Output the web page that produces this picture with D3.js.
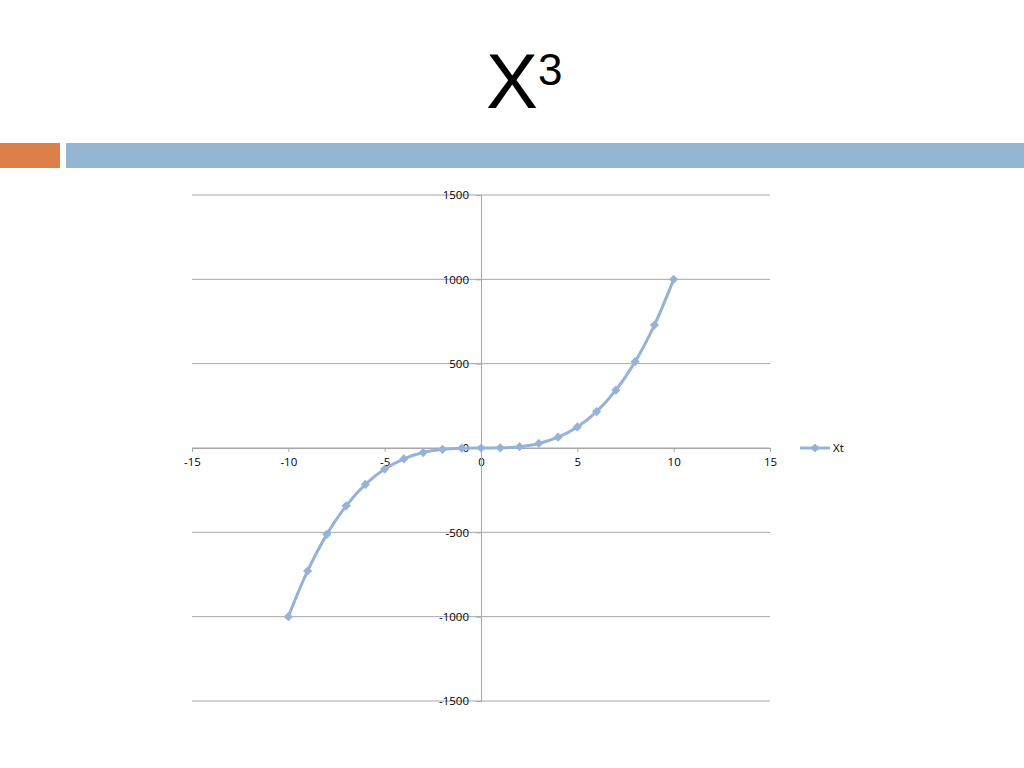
<!DOCTYPE html>
<html lang="en">
<head>
  <meta charset="UTF-8" />
  <script src="https://d3js.org/d3.v7.min.js"></script>
  <title>X3</title>
  <style>
    body { margin: 0; background: #fff; }
  </style>
</head>
<body>
<script type="text/javascript">
	var xValues = [-10, -9, -8, -7, -6, -5, -4, -3, -2, -1, 0, 1, 2, 3, 4, 5, 6, 7, 8, 9, 10];
	var yValues = [-1000, -729, -512, -343, -216, -125, -64, -27, -8, -1, 0, 1, 8, 27, 64, 125, 216, 343, 512, 729, 1000];
	var xTicks = [-15, -10, -5, 0, 5, 10, 15];
	var yTicks = [-1500, -1000, -500, 0, 500, 1000, 1500];
	var seriesName = "Xt";

	var width = 1024; var height = 768;
	var lineColor = "#95b3d7";
	var svg = d3.select("body").append("svg").attr("width", width).attr("height", height);

	// slide decoration
	svg.append("rect").attr("x", 0).attr("y", 143).attr("width", 60).attr("height", 25).attr("fill", "#dd8047");
	svg.append("rect").attr("x", 66).attr("y", 143).attr("width", 958).attr("height", 25).attr("fill", "#94b6d2");

	var title = svg.append("text").attr("x", 486).attr("y", 108)
		.attr("font-family", "Liberation Sans, Arial, sans-serif").attr("fill", "#000");
	title.append("tspan").attr("font-size", 78).text("X");
	title.append("tspan").attr("font-size", 44).attr("dy", -23).text("3");

	var x = d3.scaleLinear().domain([-15, 15]).range([192, 770]);
	var y = d3.scaleLinear().domain([-1500, 1500]).range([701, 195]);

	// gridlines
	svg.append("g").selectAll("line").data(yTicks).enter().append("line")
		.attr("x1", x(-15)).attr("x2", x(15))
		.attr("y1", function(d){return y(d);}).attr("y2", function(d){return y(d);})
		.attr("stroke", "#a6a6a6").attr("stroke-width", 1);

	var fontFam = "Open Sans, DejaVu Sans, sans-serif";
	var fmt = function(d){return String(d);};

	// x axis through y=0
	var xAxis = svg.append("g").attr("transform", "translate(0," + y(0) + ")")
		.call(d3.axisBottom(x).tickValues(xTicks).tickSize(4).tickPadding(6).tickFormat(fmt));
	xAxis.select(".domain").attr("stroke", "#a6a6a6");
	xAxis.selectAll(".tick line").attr("stroke", "#a6a6a6");
	xAxis.selectAll("text").attr("font-family", fontFam).attr("font-size", 11.5).attr("fill", "#000");

	// y axis through x=0
	var yAxis = svg.append("g").attr("transform", "translate(" + x(0) + ",0)")
		.call(d3.axisLeft(y).tickValues(yTicks).tickSize(5).tickPadding(7).tickFormat(fmt));
	yAxis.select(".domain").attr("stroke", "#a6a6a6");
	yAxis.selectAll(".tick line").attr("stroke", "#a6a6a6");
	yAxis.selectAll("text").attr("font-family", fontFam).attr("font-size", 11.5).attr("fill", "#000");

	var pts = xValues.map(function(d, i){return [d, yValues[i]];});
	var line = d3.line().x(function(d){return x(d[0]);}).y(function(d){return y(d[1]);}).curve(d3.curveCatmullRom.alpha(0.5));
	svg.append("path").datum(pts).attr("d", line).attr("fill", "none")
		.attr("stroke", lineColor).attr("stroke-width", 3);

	var marker = d3.symbol().type(d3.symbolSquare).size(42);
	svg.append("g").selectAll("path").data(pts).enter().append("path")
		.attr("d", marker)
		.attr("transform", function(d){return "translate(" + x(d[0]) + "," + y(d[1]) + ") rotate(45)";})
		.attr("fill", lineColor);

	// legend
	var lg = svg.append("g").attr("transform", "translate(800," + y(0) + ")");
	lg.append("line").attr("x1", 0).attr("x2", 30).attr("y1", 0).attr("y2", 0).attr("stroke", lineColor).attr("stroke-width", 3);
	lg.append("path").attr("d", marker).attr("transform", "translate(15,0) rotate(45)").attr("fill", lineColor);
	lg.append("text").attr("x", 33).attr("y", 4).attr("font-family", fontFam).attr("font-size", 11.5).attr("fill", "#000").text(seriesName);
</script>
</body>
</html>
